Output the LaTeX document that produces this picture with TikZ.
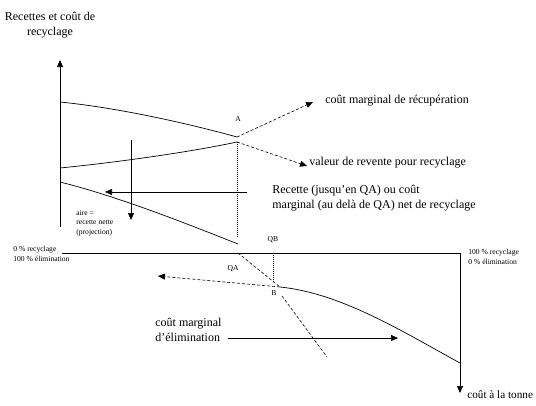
\documentclass[tikz,border=0pt]{standalone}
\usepackage{fontspec}
\setmainfont{Liberation Serif}
\usetikzlibrary{arrows.meta}
\begin{document}
\begin{tikzpicture}[x=1pt,y=-1pt, line width=0.7pt,
  arr/.style={-{Triangle[length=7pt,width=6pt]}},
  dsh/.style={dash pattern=on 3pt off 2pt, line width=0.6pt},
  dotl/.style={dash pattern=on 1pt off 1pt, line width=0.4pt},
  small/.style={font=\fontsize{7.6}{9.4}\selectfont, inner sep=0pt, align=left},
  lbl/.style={font=\fontsize{12}{15}\selectfont, inner sep=0pt, align=left}]
\useasboundingbox (0,0) rectangle (536,405);

% title
\node[lbl, align=center] (title) at (50,25) {Recettes et coût de\\recyclage};

% left axis
\coordinate (O) at (60,227);
\coordinate (ytop) at (60,60);
\draw[arr] (O) -- (ytop);

% upper curves
\coordinate (c1s) at (60,102);
\coordinate (A) at (237,137);
\draw (c1s) .. controls (120,108) and (190,124) .. (A);
\coordinate (c2s) at (60,168);
\coordinate (A2) at (237,142);
\draw (c2s) .. controls (120,162) and (190,152) .. (A2);
\coordinate (c3s) at (60,182);
\coordinate (c3e) at (238,244);
\draw (c3s) .. controls (120,197) and (190,225) .. (c3e);

\node[small] (Alab) at (238,119) {A};

% dashed extensions from A
\coordinate (t1) at (313,102);
\coordinate (t2) at (307,166);
\draw[dsh,arr] (A) -- (t1);
\draw[dsh,arr] (A2) -- (t2);
\node[lbl, anchor=west] (l1) at (325,101) {coût marginal de récupération};
\node[lbl, anchor=west] (l2) at (309,163) {valeur de revente pour recyclage};

% dotted vertical at QA
\coordinate (qa1) at (237,238);
\draw[dotl] (A2) -- (qa1);

% area arrows
\coordinate (v1) at (131,140);
\coordinate (v2) at (131,220);
\draw[arr] (v1) -- (v2);
\coordinate (h1) at (247,192);
\coordinate (h2) at (105,192);
\draw[arr] (h1) -- (h2);
\node[lbl, anchor=north west] (l3) at (272,185) {Recette (jusqu’en QA) ou coût\\marginal (au delà de QA) net de recyclage};
\node[small, anchor=north west] (aire) at (76,210) {aire =\\recette nette\\(projection)};

% horizontal axis
\coordinate (hL) at (62,253);
\coordinate (hR) at (460,253);
\draw (hL) -- (hR);
\node[small, anchor=north west] (leftlab) at (13,246) {0 \% recyclage\\100 \% élimination};
\node[small, anchor=north west] (rightlab) at (468,249) {100 \% recyclage\\0 \% élimination};

% right axis
\coordinate (rb) at (460,393);
\draw[arr] (hR) -- (rb);
\node[lbl, anchor=west, font=\fontsize{11.2}{13}\selectfont] (ton) at (467,395) {coût à la tonne};

% QB, QA, B
\node[small] (QB) at (273,240) {QB};
\coordinate (qb0) at (273,253);
\coordinate (qb1) at (273,283);
\draw[dotl] (qb0) -- (qb1);
\node[small] (QA) at (233,269) {QA};
\node[small] (Blab) at (274,293) {B};

% dashed line crossing B
\coordinate (d0) at (238,253);
\coordinate (B) at (280,287);
\coordinate (d2) at (282,296);
\coordinate (d3) at (327,357);
\draw[dsh] (d0) -- (B);
\draw[dsh] (d2) -- (d3);

% lower curve
\coordinate (ce) at (460,363);
\draw (B) .. controls (340,293) and (400,330) .. (ce);
\coordinate (bl) at (158,276);
\draw[dsh,arr] (B) -- (bl);

% marginal elimination cost
\node[lbl, anchor=north west] (l4) at (155,318) {coût marginal\\d’élimination};
\coordinate (e1) at (228,338);
\coordinate (e2) at (398,338);
\draw[arr] (e1) -- (e2);
\end{tikzpicture}
\end{document}
